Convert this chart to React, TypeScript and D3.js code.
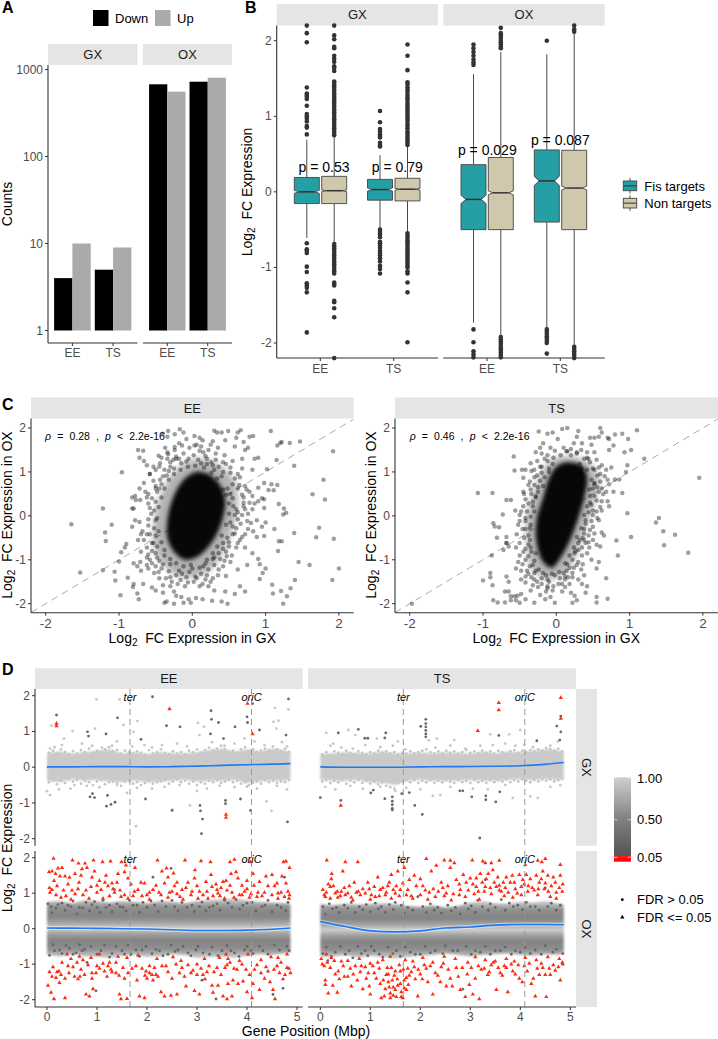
import React from "react";
import * as d3 from "d3";

// ---------- Panel A ----------
const aFacets = ["GX", "OX"];
const aCats = ["EE", "TS"];
const aDir = ["Down", "Up"];
const aGX = [4, 10, 5, 9];
const aOX = [676, 556, 724, 805];
const aTicks = [1, 10, 100, 1000];

// ---------- Panel B (box statistics: q1, median, q3, whisker low, whisker high, notch half) ----------
const bBoxes = [
  [-0.155, 0, 0.19, -0.61, 0.69, 0.02],
  [-0.155, 0.015, 0.205, -0.68, 0.73, 0.012],
  [-0.11, 0.03, 0.165, -0.5, 0.485, 0.02],
  [-0.12, 0.035, 0.18, -0.55, 0.6, 0.012],
  [-0.5, -0.1, 0.36, -1.73, 1.557, 0.055],
  [-0.5, -0.013, 0.455, -1.9, 1.85, 0.025],
  [-0.4, 0.145, 0.555, -1.81, 1.82, 0.06],
  [-0.5, 0.05, 0.55, -2.05, 2.1, 0.025],
];
const bOut = [
  [2.2,2.1,1.98,1.38,1.3,1.28,1.26,1.23,1.14,1.03,1,.97,.93,.87,.85,.76,-.68,-.76,-.78,-.81,-.99,-1.06,-1.21,-1.24,-1.27,-1.33,-1.86],
  [2.2,2.07,2.02,1.92,1.9,1.8,1.76,1.72,1.66,1.64,1.6,1.46,1.44,1.41,1.38,1.35,1.32,1.29,1.26,1.23,1.2,1.17,1.14,1.11,1.08,1.05,1.02,.99,.96,.93,.9,.87,.84,.81,.78,.75,-.69,-.72,-.75,-.78,-.81,-.84,-.87,-.9,-.93,-.96,-.99,-1.02,-1.05,-1.08,-1.2,-1.22,-1.24,-1.44,-1.46,-1.54,-1.66,-2.2],
  [1.07,.92,.83,.8,.76,.74,.72,.65,.62,.6,-.5,-.53,-.56,-.6,-.66,-.68,-.71,-.74,-.78,-.81,-.84,-.88,-.92,-.98,-1.02,-1.08],
  [1.95,1.8,1.61,1.45,1.42,1.38,1.35,1.32,1.28,1.25,1.22,1.18,1.15,1.12,1.09,1.06,1.03,1,.97,.94,.9,.87,.84,.8,.77,.74,.71,.68,.65,.62,-.55,-.58,-.61,-.64,-.67,-.7,-.73,-.76,-.79,-.82,-.85,-.88,-.91,-.94,-.97,-1,-1.05,-1.08,-1.2,-1.33,-1.99],
  [1.95,1.9,1.85,1.8,1.75,1.71,1.68,-1.82,-1.99,-2.11,-2.15,-2.19],
  [2.17,2.1,2.07,2.04,2.01,1.98,1.95,1.92,1.9,-1.92,-1.95,-1.98,-2.01,-2.04,-2.07,-2.1,-2.13,-2.16,-2.19],
  [2,-1.82,-1.85,-1.88,-1.91,-1.94,-1.97,-2,-2.14],
  [2.2,2.15,2.12,-2.05,-2.08,-2.11,-2.14,-2.17,-2.2],
];
const bP = ["p = 0.53", "p = 0.79", "p = 0.029", "p = 0.087"];
const bPy = [0.26, 0.26, 0.485, 0.62];
const bTicks = [-2, -1, 0, 1, 2];
const bGroups = ["Fis targets", "Non targets"];

// ---------- Panel C ----------
// The solid centre of each cloud holds too many overlapping points to read one by one,
// so it is kept as outlines; the points around it are read individually.
const cEECore = [[.05,1],[.22,.95],[.38,.7],[.45,.35],[.4,-.15],[.26,-.62],[.08,-.92],[-.1,-1],[-.25,-.82],[-.34,-.5],[-.34,-.1],[-.27,.38],[-.13,.8]];
const cEEHalo = [[.05,1.3],[.32,1.2],[.56,.85],[.62,.3],[.54,-.35],[.4,-.9],[.18,-1.3],[-.15,-1.4],[-.38,-1.15],[-.52,-.7],[-.52,-.1],[-.43,.5],[-.22,1.05]];
const cTSCore = [[.14,1.22],[.34,1.15],[.42,.9],[.38,.4],[.27,-.2],[.17,-.62],[.06,-.95],[-.06,-1.18],[-.18,-1.05],[-.27,-.6],[-.27,-.1],[-.18,.42],[-.1,.85],[0,1.12]];
const cTSHalo = [[.15,1.35],[.44,1.22],[.58,.85],[.52,.3],[.38,-.35],[.27,-.9],[.12,-1.3],[-.12,-1.45],[-.34,-1.2],[-.4,-.7],[-.41,-.1],[-.32,.5],[-.2,1],[-.05,1.3]];
const cEEPts = [-1.65,-.19,-1.53,-1.29,-1.22,-1.24,-1.22,.17,-1.19,-.38,-1.18,-.57,-1.1,-.2,-1.06,-1.27,-1.05,-1.47,-.96,.99,-1,-1.04,-.97,-.83,-.9,-.64,-.92,-.72,-.88,-1.41,-.81,-1.62,-.98,-1.81,-.73,-1.9,-.75,-1.77,-.8,-1.55,-.67,-1.55,-.7,-1.25,-.8,-1.08,-.75,-1.15,-.71,-1.05,-.78,.45,-.82,.42,-.77,.36,-.71,.36,-.82,.17,-.8,.17,-.78,-.1,-.72,-.14,-.82,-.25,-.68,-.35,-.62,-.42,-.62,-.72,-.6,-.88,-.55,-.8,-.53,-.62,-.52,-.28,-.6,-.08,-.56,.05,-.6,.5,-.53,.8,-.6,.28,-.62,.42,-.72,1.32,-.66,1.25,-.74,1.5,-.67,1.48,-.62,1.15,-.53,1.12,-.58,.95,-.5,.62,-.46,1.37,-.44,1.2,-.37,1.55,-.34,1.45,-.33,1.4,-.3,1.12,-.24,1.57,-.22,1.3,-.17,1.97,-.33,1.93,-.12,1.9,-.24,1.86,-.4,1.87,-.34,1.8,-.18,1.65,-.08,1.75,.03,1.82,.1,1.78,.03,1.6,.14,1.72,.28,1.7,.3,1.94,.34,1.9,.4,1.9,.49,1.93,.66,1.95,.62,1.9,.6,1.78,.7,1.68,.78,1.8,.83,1.82,.58,1.58,.45,1.72,.35,1.55,.25,1.62,.15,1.45,.72,1.5,.76,1.55,.68,1.3,.55,1.25,.44,1.38,.32,1.28,.2,1.3,.68,1.08,.82,1.05,.9,1.32,1.02,1.06,1.07,1.93,1.2,1.66,1.22,1.68,1.33,1.66,1.47,1.69,1.92,1.47,1.16,1.6,1.39,1.14,1.15,1.27,.85,1.3,1.79,.82,1.64,.49,1.81,.37,1.08,.72,1.16,.7,1.11,.58,1.04,.59,.98,.75,.9,.64,.78,.55,.72,.68,.65,.88,.55,.72,.98,.38,.95,.4,.9,.33,.85,.28,.7,.22,.82,.15,.98,.18,1.18,.27,1.25,.17,1.28,.07,1.24,.03,1,-.15,.68,.02,.62,-.08,.75,-.12,.88,-.1,.95,-.25,.83,-.35,.72,-.42,.65,-.55,.88,-.48,.98,-.46,1.12,-.3,1.73,-.27,1.69,-.49,1.93,-.52,1.39,-.39,1.18,-.58,1.22,-.58,1.17,-.8,1.45,-1.05,1.6,-1.12,2,-1.2,1.91,-1.46,1.4,-1.46,1.34,-1.65,1.29,-1.83,1.24,-2,1.21,-1.71,1.09,-1.57,1.1,-1.77,.92,-1.1,1,-1.2,.96,-1.3,.92,-1.44,.9,-.98,.82,-.85,.72,-.72,.6,-.72,.75,-1.12,.62,-1.22,.52,-1.05,.47,-.92,.42,-1.15,.35,-1.35,.46,-1.37,.25,-1.5,.65,-1.6,.72,-1.72,.58,-1.78,.45,-1.72,.4,-1.95,.48,-2,.27,-1.93,.14,-1.9,.05,-1.87,-.02,-1.98,-.05,-1.9,-.12,-1.98,-.15,-1.85,-.22,-1.82,-.25,-1.72,-.35,-1.95,-.38,-1.98,-.25,-2,-.4,-1.75,-.5,-1.7,-.55,-1.63,-.4,-1.58,-.3,-1.6,-.2,-1.55,-.1,-1.6,.02,-1.5,.1,-1.6,.18,-1.45,.3,-1.7,-.45,-1.42,-.52,-1.3,-.6,-1.2,-.42,-1.2,-.55,-1.08,-.45,-1.02,-.62,-.95,-.5,-.85,.42,-.75,.5,-.6,.55,-.42,.6,-.28,.52,-.15,.6,.15,.55,.4,.62,.62,.42,1,.28,1.15,.12,1.2,-.05,1.3,-.15,1.2,-.25,1.08,-.35,.92,-.42,.72,-.48,.55,-.5,.32,-.52,.12,-.5,-.1,-.5,-.45,-.48,-.7,-.38,-.9,-.3,-1.1,-.18,-1.25,0,-1.2,.15,-1.15,.3,-.95,.2,-1.35,-.08,-1.4,-.3,-1.4];
const cEEPts2 = [-.44,.82,-.38,1.05,-.3,1.22,-.22,1.35,-.12,1.42,.02,1.38,.1,1.48,.18,1.36,.26,1.22,.36,1.12,.46,1.18,.52,.98,.58,.85,.64,.7,.68,.48,.7,.3,.62,.08,.66,-.18,.58,-.4,.5,-.7,.46,-.82,.38,-.98,.3,-1.12,.22,-1.22,.12,-1.32,.04,-1.38,-.04,-1.28,-.14,-1.32,-.22,-1.35,-.32,-1.26,-.4,-1.1,-.48,-.95,-.55,-.62,-.58,-.42,-.6,-.22,-.58,.18,-.55,.4,-.5,.68,-.45,.62,-.4,.9,-.32,1.02,-.26,1.28,-.18,1.3,-.08,1.24,.08,1.28,.2,1.18,.3,1.05,.4,.9,.48,.62,.52,.5,.56,.22,.58,.02,.55,-.24,.48,-.5,.42,-.62,.36,-.85,.28,-.98,.18,-1.08,.1,-1.18,-.02,-1.12,-.12,-1.15,-.22,-1.08,-.3,-.98,-.38,-.78,-.42,-.6,-.46,-.35,-.48,-.05,-.46,.2,-.42,.42,-.38,.62,-.32,.82,-.25,.95,-.16,1.05,-.06,1.12,.04,1.14,.16,1.1,.26,.98,.34,.85,.42,.6,.46,.48,.5,.28,.5,.05,.46,-.2,.4,-.45,.34,-.7,.28,-.85,.2,-1,-.66,.75,-.72,.62,-.64,.55,-.42,1.32,-.5,1.05,-.58,.95,-.66,-.55,-.7,-.42,-.74,-.55,-.7,-.82,-.58,-1,-.5,-1.15,-.62,-1.12,-.46,-1.28,-.36,-1.42,-.28,-1.5,-.16,-1.46,-.06,-1.52,.06,-1.42,.14,-1.55,.22,-1.6,.28,-1.42,.36,-1.22,.44,-1.02,.54,-.9,.62,-.62,.68,-.48,.76,-.3,.8,-.16,.76,.05,.72,.15,.78,.3,.7,.42,.82,.45,.74,.6,.62,.95,.52,1.1,.42,1.22,.32,1.42,.22,1.5,.12,1.58,.06,1.62,-.04,1.55,-.14,1.6,-.24,1.5,-.34,1.3,-.45,1.12];
const cTSPts = [-1.97,-2,-1.07,.52,-.87,.52,-.62,.36,-.68,.36,-.73,.03,-.86,-.17,-.84,-.24,-.78,-.26,-.81,-.5,-.68,-.48,-.68,-.62,-.65,-.7,-.72,-.78,-.88,-.9,-.68,-.62,-.9,-1.3,-.9,-1.4,-1,-1.47,-.87,-1.58,-.68,-1.38,-.65,-1.5,-.86,-1.92,-.8,-1.97,-.7,-1.97,-.65,-1.72,-.7,-1.72,-.62,-1.83,-.57,-1.83,-.53,-1.82,-.48,-1.78,-.62,-1.92,-.55,-1.92,-.5,-1.98,-.42,-1.9,-.3,-1.98,-.22,-1.8,-.15,-1.9,-.08,-1.85,-.02,-1.98,.2,-1.75,.22,-1.98,.28,-1.92,.25,-1.82,.4,-1.75,.55,-1.97,.55,-1.85,.7,-1.89,.35,-1.55,.42,-1.6,.3,-1.45,.38,-1.35,.68,-1.42,.55,-1.2,.58,-1.05,.48,-1,.36,-1.1,.6,-.7,.55,-.66,.45,-.72,.42,-.85,.5,-.55,.62,-.38,.65,-.45,.82,-.56,.84,-.9,1.02,-.48,1.4,-.05,1.36,-.15,1.46,-.35,1.62,-.43,1.47,-.67,1.8,-.84,.97,.06,1.95,.87,.58,-.1,.5,-.25,.44,-.45,.38,-.4,.5,.02,.48,.25,.55,.35,.62,.33,.7,.33,.72,.22,.78,.55,.9,.52,.62,.62,.7,.82,.8,.83,.86,.83,.95,1,.97,1.15,1.02,1.5,.93,1.45,1.2,1.3,1.1,1.95,.98,1.75,.9,1.87,.8,1.85,.72,1.75,.78,1.6,.72,1.5,.7,1.78,.6,2,.62,1.9,.58,1.8,.52,1.78,.46,1.78,.3,1.93,.28,1.8,.35,1.65,.42,1.45,.52,1.45,.55,1.28,.62,1.15,.68,1.05,.75,1.1,.48,1.62,.24,1.65,.15,1.47,.02,1.75,.15,2,.08,1.98,-.05,1.9,-.12,1.87,-.24,1.92,-.18,1.65,-.08,1.55,-.22,1.55,-.2,1.42,-.28,1.45,-.12,1.38,-.35,1.2,-.42,1.05,-.58,1.35,-.57,1.03,-.45,.87,-.47,1.05,-.3,1.05,-.22,1.12,-.38,.7,-.45,.55,-.44,.5,-.35,.6,-.28,.45,-.32,.32,-.45,.22,-.56,.12,-.5,.02,-.42,-.05,-.52,-.2,-.42,-.3,-.38,-.45,-.5,-.62,-.45,-.82,-.35,-.72,-.42,-1,-.52,-1.05,-.55,-1.2,-.48,-1.25,-.38,-1.32,-.3,-1.45,-.2,-1.55,-.12,-1.65,-.05,-1.7,.03,-1.55,.12,-1.62,.22,-1.4,.1,-1.3,.18,-1.18,.3,-1.05,.25,-.85,.35,-.72,.32,-.55,.38,-.3,.4,-.1,.5,.12,.45,.6,.52,.72,.6,.95,.5,1.08,.42,1.32,.28,1.42,.32,.95,-.28,-.85,-.32,-1.12,-.28,-1.25,-.18,-1.3,-.42,-1.52,-.35,-1.7,-.48,-1.45,-.12,-1.45,-.25,.65,-.22,.8,-.2,.98,-.1,1.08,-.3,.1,-.35,-.2,-.38,-.65,.15,-1.1,.12,-1.45,.08,-1.72,.18,-1.55];
const cTSPts2 = [.14,1.47,.28,1.45,.38,1.3,.46,1.22,.52,1.05,.56,.92,.6,.78,.58,.55,.52,.45,.46,.3,.44,.08,.4,-.18,.36,-.5,.3,-.62,.26,-.8,.22,-1,.14,-1.25,.05,-1.42,-.02,-1.35,-.1,-1.5,-.2,-1.42,-.3,-1.3,-.36,-1.15,-.38,-.92,-.42,-.75,-.44,-.5,-.46,-.3,-.42,-.12,-.4,.1,-.38,.28,-.34,.5,-.3,.7,-.26,.92,-.2,1.12,-.12,1.25,-.04,1.32,.06,1.38,.2,1.38,.32,1.18,.42,1.05,.48,.82,.5,.62,.46,.45,.42,.22,.38,.02,.34,-.28,.28,-.48,.24,-.72,.18,-.9,.12,-1.08,.04,-1.28,-.06,-1.32,-.14,-1.35,-.24,-1.22,-.3,-1.02,-.34,-.82,-.36,-.55,-.36,-.28,-.35,-.02,-.32,.22,-.28,.42,-.25,.55,-.18,.68,-.16,.88,-.1,1,-.05,1.18,.34,1.08,.52,.75,.56,.65,.64,.5,.6,.2,.55,.1,.48,-.12,.46,-.32,.4,-.62,.35,-.9,.28,-1.12,.22,-1.3,.16,-1.4,.08,-1.55,-.12,-1.6,-.26,-1.5,-.34,-1.4,-.4,-1.25,-.46,-1.1,-.5,-.9,-.55,-.72,-.54,-.42,-.5,-.12,-.48,.1,-.42,.38,-.36,.78,-.3,.88,-.34,1.02,-.26,1.25,-.16,1.3,-.02,1.48,.1,1.55,.2,1.52,.34,1.5,.44,1.3,.58,1.1,.66,.9,.72,.72,.68,.55,.62,.12,.56,-.05,.52,-.4,.44,-.6,.38,-.55,.3,-.78,.24,-1.18,.34,-1.22,.12,-1.38,-.04,-1.6,-.14,-1.72,-.25,-1.62,-.32,-1.58,-.42,-1.38];

// ---------- Panel D ----------
// The solid band of each panel is summarised by its envelope; marks outside it are read individually.
const dBandX = [0,.25,.5,.75,1,1.25,1.5,1.75,2,2.25,2.5,2.75,3,3.25,3.5,3.75,4,4.25,4.5,4.75,4.87];
const dEEGXUp = [.4,.44,.38,.42,.46,.5,.38,.42,.37,.42,.39,.38,.42,.48,.52,.44,.5,.44,.52,.48,.42];
const dEEGXLo = [-.38,-.42,-.34,-.38,-.36,-.4,-.42,-.37,-.42,-.4,-.38,-.35,-.4,-.38,-.38,-.36,-.44,-.4,-.38,-.38,-.34];
const dTSGXUp = [.36,.38,.42,.4,.38,.44,.38,.38,.42,.38,.42,.4,.38,.44,.38,.44,.42,.46,.5,.48,.42];
const dTSGXLo = [-.36,-.38,-.38,-.36,-.42,-.44,-.5,-.38,-.36,-.38,-.38,-.38,-.36,-.38,-.38,-.36,-.34,-.36,-.34,-.36,-.34];
const dEEOXUp = [.76,.78,.72,.8,.78,.74,.78,.76,.72,.78,.76,.72,.78,.8,.83,.86,.8,.76,.74,.72,.7];
const dEEOXLo = [-.74,-.78,-.72,-.78,-.8,-.83,-.76,-.73,-.8,-.78,-.72,-.74,-.83,-.8,-.78,-.82,-.76,-.72,-.74,-.7,-.68];
const dTSOXUp = [.7,.66,.72,.68,.7,.72,.7,.64,.62,.66,.6,.64,.74,.78,.72,.7,.76,.74,.78,.72,.68];
const dTSOXLo = [-.8,-.78,-.74,-.82,-.76,-.8,-.84,-.8,-.76,-.74,-.7,-.74,-.78,-.74,-.72,-.7,-.74,-.76,-.72,-.74,-.7];

const dSmoothX = [0,.5,1,1.5,2,2.5,3,3.5,4,4.5,4.87];
const dEEGXLine = [.01,.01,.015,.015,.01,.015,.03,.05,.07,.085,.1];
const dTSGXLine = [.01,0,0,0,.01,.015,.02,.025,.04,.08,.13];
const dEEOXLine = [.02,.015,.01,0,-.01,-.03,-.05,-.05,-.04,-.015,.02];
const dTSOXLine = [.2,.06,-.06,-.09,-.06,.02,.05,.1,.12,.12,.11];

const dEEGXDark = [.19,1.46,.83,.87,.81,.99,1.41,1.38,2.11,1.97,2.39,1.16,2.66,1.13,3.29,1.34,3.28,1.58,3.43,1.25,3.53,.8,3.76,1.13,4,1.41,4.01,1.25,4.11,1.78,4.25,1.04,4.83,1.91,4.78,.9,1.88,.78,3.27,.93,1.18,.93,.91,-.74,.86,-.83,.95,-.85,1.21,-.79,1.19,-1.09,1.28,-1.04,1.36,-.98,1.97,-.89,2.5,-1.21,3.06,-1.07,3.07,-1.22,3.11,-1.45,3.09,-1.86,3.57,-.93,3.57,-1.02,3.87,-.89,4.07,-1.21,4.81,-1.53];
const dEEGXLight = [.99,1.9,1.45,1.9,.09,1.16,1.81,1.29,.96,1.08,.51,1.01,1.53,1.18,1.73,.99,3.02,1.24,3.14,1.13,4.56,1.66,4.83,1.62,4.53,1.27,4.63,1.3,4.59,1.08,1.78,-1.65,2.51,-1.19,2.86,-1.07,4.49,-1.22,4.39,-.96,0,-.67,.06,-.78,.24,-.62,.47,-.6,.15,.56,.3,.62,.06,.52,.34,.8,.7,.66,.9,.6,1.1,.55,1.4,.72,1.3,.6,1.7,.58,1.95,.62,2.1,.55,2.3,.62,2.6,.66,2.8,.58,3.05,.9,3.3,.7,3.55,.6,3.75,.66,3.95,.8,4.15,.72,4.35,.62,4.7,.7,4.8,.58,.55,-.5,.8,-.52,1.05,-.56,1.4,-.5,1.6,-.72,1.8,-.58,2.1,-.6,2.35,-.55,2.65,-.5,3,-.66,3.2,-.6,3.45,-.52,3.75,-.56,4,-.54,4.2,-.6,4.6,-.52,4.8,-.62];
const dEEGXEdge = [.04,.4,.12,.46,.2,.38,.28,.5,.36,.42,.44,.36,.52,.45,.6,.38,.68,.48,.76,.42,.84,.52,.92,.4,1,.46,1.08,.42,1.16,.5,1.24,.56,1.32,.44,1.4,.48,1.48,.38,1.56,.46,1.64,.42,1.72,.38,1.8,.44,1.88,.4,1.96,.35,2.04,.48,2.12,.38,2.2,.42,2.28,.5,2.36,.4,2.44,.36,2.52,.44,2.6,.38,2.68,.42,2.76,.36,2.84,.46,2.92,.42,3,.5,3.08,.4,3.16,.48,3.24,.55,3.32,.46,3.4,.52,3.48,.6,3.56,.5,3.64,.42,3.72,.46,3.8,.4,3.88,.5,3.96,.56,4.04,.44,4.12,.5,4.2,.42,4.28,.46,4.36,.52,4.44,.46,4.52,.58,4.6,.5,4.68,.44,4.76,.52,4.84,.42,.04,-.42,.12,-.36,.2,-.48,.28,-.38,.36,-.44,.44,-.34,.52,-.4,.6,-.36,.68,-.46,.76,-.38,.84,-.42,.92,-.5,1,-.4,1.08,-.36,1.16,-.48,1.24,-.42,1.32,-.4,1.4,-.44,1.48,-.52,1.56,-.4,1.64,-.38,1.72,-.46,1.8,-.42,1.88,-.5,1.96,-.44,2.04,-.38,2.12,-.46,2.2,-.42,2.28,-.4,2.36,-.36,2.44,-.46,2.52,-.4,2.6,-.34,2.68,-.42,2.76,-.38,2.84,-.46,2.92,-.4,3,-.5,3.08,-.42,3.16,-.46,3.24,-.38,3.32,-.42,3.4,-.36,3.48,-.44,3.56,-.4,3.64,-.36,3.72,-.42,3.8,-.38,3.88,-.46,3.96,-.42,4.04,-.5,4.12,-.44,4.2,-.4,4.28,-.46,4.36,-.36,4.44,-.42,4.52,-.38,4.6,-.44,4.68,-.4,4.76,-.42,4.84,-.36];
const dEEGXRed = [.19,1.22,.19,1.15,2.45,1.63,4.01,1.78,3.58,-1.32,3.58,-1.41,4.11,.93];
const dTSGXDark = [0,-.85,.41,-.93,.36,.96,.76,1.06,.89,.81,.95,.81,1.31,.96,1.29,.82,1.06,-.64,1.01,-.72,1.29,-.88,1.44,-.83,1.44,-.95,1.44,-1.05,1.44,-1.15,1.44,-1.2,1.63,-.74,1.78,-.71,1.89,-1.07,2.04,-1.32,2.01,1.14,2.11,1.34,2.11,1.22,2.11,1.13,2.11,1.03,2.11,.93,2.11,.85,3.19,-1.98,2.79,-.66,2.85,-.66,3.31,-.8,3.31,-.91,3.03,-.83,3.51,-.97,3.59,-.69,3.57,.89,4.33,.74,4.73,1.15,4.81,.99,4.81,1.43,4.79,.76];
const dTSGXLight = [.12,.96,.56,1.04,.26,.66,.7,.9,1.13,.8,1.55,.72,2.17,.75,2.33,.8,2.68,.76,3.4,.92,3.78,.92,4,1.04,4.08,.62,.2,.6,.42,.55,.65,.52,.9,.62,1.2,.56,1.45,.6,1.7,.5,2.3,.55,2.6,.6,2.9,.52,3.2,.6,3.45,.62,3.7,.66,3.9,.6,4.25,.56,4.6,.6,4.75,.72,.1,-.55,.3,-.62,.6,-.52,.85,-.6,1.2,-.55,1.5,-.66,1.72,-.58,2,-.62,2.25,-.8,2.4,-.78,2.6,-.55,3.05,-.6,3.35,-.62,3.7,-.5,3.85,-.86,4.2,-.82,4.35,-.86,4.6,-.55,4.8,-.5];
const dTSGXEdge = [.04,.36,.12,.42,.2,.34,.28,.44,.36,.4,.44,.36,.52,.46,.6,.4,.68,.36,.76,.44,.84,.4,.92,.36,1,.42,1.08,.38,1.16,.46,1.24,.4,1.32,.44,1.4,.38,1.48,.42,1.56,.36,1.64,.4,1.72,.38,1.8,.44,1.88,.38,1.96,.42,2.04,.46,2.12,.5,2.2,.42,2.28,.38,2.36,.44,2.44,.38,2.52,.46,2.6,.4,2.68,.44,2.76,.38,2.84,.42,2.92,.48,3,.4,3.08,.44,3.16,.38,3.24,.46,3.32,.4,3.4,.44,3.48,.38,3.56,.46,3.64,.42,3.72,.36,3.8,.44,3.88,.48,3.96,.4,4.04,.46,4.12,.42,4.2,.48,4.28,.44,4.36,.5,4.44,.46,4.52,.54,4.6,.5,4.68,.46,4.76,.52,4.84,.44,.04,-.4,.12,-.36,.2,-.44,.28,-.38,.36,-.42,.44,-.36,.52,-.46,.6,-.38,.68,-.42,.76,-.36,.84,-.44,.92,-.38,1,-.46,1.08,-.4,1.16,-.48,1.24,-.42,1.32,-.52,1.4,-.56,1.48,-.6,1.56,-.44,1.64,-.4,1.72,-.36,1.8,-.42,1.88,-.36,1.96,-.44,2.04,-.38,2.12,-.42,2.2,-.36,2.28,-.44,2.36,-.38,2.44,-.42,2.52,-.36,2.6,-.4,2.68,-.44,2.76,-.36,2.84,-.42,2.92,-.38,3,-.44,3.08,-.36,3.16,-.42,3.24,-.38,3.32,-.44,3.4,-.36,3.48,-.42,3.56,-.36,3.64,-.4,3.72,-.34,3.8,-.42,3.88,-.36,3.96,-.4,4.04,-.34,4.12,-.38,4.2,-.42,4.28,-.36,4.36,-.4,4.44,-.34,4.52,-.38,4.6,-.34,4.68,-.4,4.76,-.36,4.84,-.32];
const dTSGXRed = [3.57,1.8,3.57,1.6,4.81,1.94,4.81,1.36,3.15,1.02,.41,-1.07];

const dEEOXRed = [.13,1.98,.51,1.93,.63,1.84,.76,1.84,.93,1.93,1.11,1.88,1.27,1.9,1.49,1.88,1.58,1.79,1.76,1.72,2.21,1.93,2.39,1.7,2.53,1.56,2.76,1.93,2.96,1.65,3.08,1.91,3.27,1.88,3.66,1.88,3.75,1.95,4.07,1.88,4.73,1.88,4.78,1.9,4.85,1.72,.04,1.6,.1,1.62,.17,1.55,.22,1.7,.3,1.72,.36,1.48,.45,1.44,.56,1.55,.68,1.5,.8,1.72,.95,1.62,1.05,1.35,1.18,1.5,1.3,1.28,1.42,1.55,1.55,1.6,1.68,1.25,1.82,1.1,1.95,1.28,2.05,1.02,2.18,1.22,2.3,1.62,2.42,1.45,2.55,1.2,2.7,1.1,2.82,1.3,2.95,1.42,3.05,1.05,3.18,1.32,3.28,1.52,3.38,1.25,3.48,1.15,3.58,1.35,3.68,1.55,3.78,1.6,3.9,1.22,4,1.35,4.12,1.55,4.25,1.32,4.38,1.48,4.5,1.52,4.6,1.28,4.7,1.48,4.82,1.05,.05,1.15,.1,1.1,.18,.95,.28,.88,.38,.92,.5,1.08,.62,1.12,.72,.95,.88,1.18,1,1.02,1.12,.85,1.22,1.2,1.35,1.02,1.48,.9,1.62,.85,1.72,.92,1.9,.92,2.05,.82,2.28,.95,2.45,1.02,2.6,.98,2.72,.82,2.88,.95,3.02,.85,3.2,1.05,3.32,.92,3.42,1,3.55,.85,3.7,1.02,3.85,.95,3.95,1.05,4.05,.88,4.2,.9,4.35,1.02,4.5,.95,4.62,1,4.75,.9,4.85,.95,.02,-1.6,.08,-1.8,.14,-1.98,.1,-1.35,.2,-1.22,.28,-1.3,.25,-1.52,.36,-1.95,.42,-1.05,.48,-.85,.55,-1.35,.62,-1.42,.68,-1.15,.78,-1.85,.85,-1.9,.92,-1.7,.75,-1.3,.9,-1.25,1,-1.05,1.12,-.98,1.2,-1.35,1.28,-1.15,1.38,-1.25,1.45,-1.85,1.48,-1.98,1.6,-1.97,1.55,-1.4,1.7,-1.12,1.8,-1.45,1.85,-1.9,1.95,-1.95,1.98,-1.2,2.05,-1.05,2.12,-1.45,2.18,-1.3,2.28,-1.78,2.35,-1.9,2.48,-1.88,2.6,-1.85,2.7,-1.1,2.78,-1.62,2.88,-1.25,2.95,-1.75,3.05,-1.85,3.12,-1.3,3.2,-1.22,3.3,-1.6,3.32,-1.8,3.4,-1.1,3.52,-1.9,3.6,-1.98,3.7,-1.9,3.62,-1.55,3.72,-1.45,3.8,-1.15,3.92,-1.48,4,-1.78,4.1,-1.95,4.15,-1.15,4.25,-1.72,4.35,-1.4,4.42,-1.2,4.52,-1.72,4.56,-1.98,4.65,-1.25,4.72,-1.42,4.8,-1.1,4.87,-1.25,.4,-.72,.65,-.78,.88,-.82,1.05,-.72,1.25,-.95,1.42,-.78,1.6,-.82,1.82,-.75,2.2,-.85,2.38,-1.05,2.52,-.8,2.68,-.9,3,-1,3.15,-.85,3.45,-.82,3.58,-.72,3.62,-.85,3.85,-.9,4.02,-.72,4.28,-.88,4.48,-.8,4.62,-.82,4.8,-.72];
const dEEOXRed2 = [.06,1.02,.14,1.35,.2,1.2,.26,1.48,.33,1.08,.42,1.25,.48,.82,.56,.98,.64,1.3,.7,1.68,.78,1.08,.84,.85,.9,1.45,1,1.22,1.08,1.1,1.16,1.3,1.25,.92,1.32,1.12,1.4,1.3,1.46,1.08,1.55,.95,1.62,1.42,1.75,1.05,1.88,1.3,2,.95,2.12,1.1,2.24,1.02,2.35,1.28,2.42,.88,2.5,1.05,2.6,1.3,2.66,.9,2.78,1.15,2.9,1.05,3,1.2,3.12,.95,3.22,.85,3.3,1.18,3.4,1.1,3.46,.92,3.52,1.32,3.6,1.08,3.66,1.22,3.74,.88,3.82,1.42,3.9,.95,4,1.12,4.08,.98,4.14,1.22,4.22,1.02,4.3,.92,4.42,1.2,4.55,1.2,4.62,.85,4.68,1.02,4.78,1.28,4.84,.85,.05,-1.22,.12,-1.08,.18,-1.38,.24,-1.2,.3,-.95,.36,-1.4,.44,-1.25,.52,-1.08,.6,-.95,.66,-1.35,.72,-.88,.82,-1.02,.9,-1.4,.98,-1.25,1.05,-1.12,1.15,-1.2,1.22,-1.05,1.3,-1.22,1.38,-.95,1.44,-1.32,1.52,-1.1,1.62,-1.25,1.78,-1.05,1.9,-1.12,1.96,-1.32,2,-1.4,2.05,-1.25,2.1,-1.3,2.15,-1.1,2.22,-1.35,2.3,-1.05,2.42,-1.22,2.5,-1.4,2.58,-1,2.65,-1.25,2.75,-1.35,2.82,-1.02,2.92,-1.18,3,-1.3,3.08,-1.12,3.16,-1.42,3.24,-1.05,3.34,-1.22,3.42,-1.6,3.48,-1.3,3.56,-1.1,3.6,-1.02,3.66,-.95,3.74,-1.12,3.82,-1.55,3.9,-1,3.98,-1.15,4.05,-1.3,4.12,-1.55,4.2,-1.02,4.28,-1.25,4.38,-1.08,4.46,-1.5,4.54,-1.15,4.6,-1.05,4.68,-.95,4.76,-1.3,4.84,-1.12];
const dEEOXGray = [.02,.7,.08,.62,.18,.58,.3,.72,.42,.66,.52,.78,.65,.6,.78,.74,.9,.68,1,.6,1.12,.8,1.25,.66,1.35,1.1,1.4,.7,1.52,.6,1.65,.8,1.8,.66,1.92,.74,2.12,1.45,2.15,.66,2.3,.78,2.48,1.7,2.55,.62,2.7,.74,2.9,.66,3.1,.75,3.25,.6,3.4,.7,3.62,.72,3.78,.82,3.92,.66,4.1,.74,4.3,.62,4.42,.8,4.6,.66,4.75,1.45,4.82,.74,.05,-.75,.15,-.62,.3,-.7,.45,-.55,.58,-.68,.7,-.62,.8,-.95,.98,-1.75,1.08,-.62,1.3,-.7,1.5,-.62,1.68,-.72,1.9,-.6,2.1,-.7,2.25,-.62,2.42,-.72,2.62,-.6,2.82,-.68,2.98,-.6,3.1,-1.45,3.25,-.72,3.38,-1.98,3.5,-.62,3.75,-.68,3.95,-.6,4.12,-.7,4.32,-.62,4.52,-1.85,4.72,-1.68,4.84,-.62];
const dEEOXGray2 = [.1,.45,.22,.68,.36,.52,.48,.62,.6,.42,.72,.58,.85,.5,.95,.76,1.06,.46,1.18,.6,1.3,.48,1.46,.62,1.58,.5,1.72,.66,1.85,.46,2,.6,2.08,.78,2.22,.48,2.38,.62,2.5,.8,2.62,.5,2.8,.6,2.95,.48,3.05,.62,3.18,.5,3.32,.64,3.46,.52,3.55,.8,3.7,.6,3.85,.55,4,.72,4.18,.5,4.36,.66,4.5,.48,4.68,.6,4.78,.5,.12,-.45,.25,-.6,.38,-.48,.52,-.72,.65,-.45,.75,-.58,.88,-.5,1,-.72,1.15,-.46,1.25,-.8,1.38,-.5,1.55,-.72,1.62,-.46,1.78,-.6,1.85,-.78,1.98,-.5,2.18,-.58,2.32,-.76,2.48,-.46,2.56,-.64,2.72,-.5,2.88,-.76,3.02,-.5,3.12,-.68,3.3,-.52,3.42,-.76,3.6,-.48,3.68,-.62,3.84,-.78,4,-.5,4.08,-.62,4.25,-.5,4.42,-.72,4.55,-.46,4.65,-.6,4.8,-.5];
const dTSOXRed = [.13,1.93,.5,1.88,.75,1.88,.45,1.62,2.12,1.97,2.48,1.93,2.6,1.92,2.68,1.85,3.04,1.93,3.25,1.9,3.3,1.85,3.42,1.85,3.58,1.92,4.1,1.8,4.35,1.92,4.5,1.97,4.43,1.88,4.8,1.8,.05,1.1,.12,1.02,.2,1.18,.22,1.4,.23,1.55,.3,1,.42,1.05,.58,1.2,.68,1.3,.72,1.02,.85,1.12,.95,1.3,1.02,.95,1.15,1.45,1.2,1.1,1.35,1.2,1.42,1.52,1.55,1.62,1.6,1.1,1.68,1.72,1.78,1.38,1.88,1.5,2,1.4,2.1,1.08,2.22,1.62,2.32,1.78,2.45,1.15,2.52,1.0,2.6,1.72,2.72,1.38,2.8,1.1,2.92,1.3,3,1.42,3.12,1.18,3.2,1.55,3.32,1.4,3.45,1.65,3.52,1.18,3.62,1.05,3.72,1.45,3.8,1.3,3.9,1.12,3.98,1.52,4.08,1.25,4.2,1.4,4.28,1.08,4.38,1.3,4.45,1.62,4.55,1.5,4.62,1.2,4.72,1.02,4.8,1.5,4.85,1.25,.1,.9,.2,.85,.35,.88,.5,.95,.65,.8,.8,.95,1,.82,1.1,.9,1.3,.95,1.42,.85,1.5,1,1.72,.95,1.85,.85,2,.95,2.15,.82,2.3,.9,2.48,.92,2.62,.8,2.78,1.25,2.9,.9,3.08,.98,3.18,.82,3.28,1.05,3.42,.98,3.58,1.22,3.68,.92,3.85,.88,4.02,.95,4.15,1.05,4.35,.95,4.48,1.12,4.6,.9,4.72,.85,.02,-.85,.08,-1.05,.1,-1.45,.1,-1.58,.16,-1.82,.22,-.82,.3,-1.28,.38,-1.42,.34,-1.8,.42,-.92,.48,-1.35,.55,-1.35,.62,-1.62,.7,-1.05,.82,-1.05,.85,-1.7,.92,-1.4,.98,-1.62,1,-1.85,1.08,-1.25,1.15,-.95,1.2,-1.55,1.22,-1.95,1.3,-1.7,1.32,-1.3,1.36,-1.5,1.4,-1.82,1.42,-1.1,1.46,-1.65,1.48,-1.32,1.52,-1.92,1.55,-1.6,1.6,-1.2,1.62,-1.78,1.65,-1.95,1.68,-1.45,1.72,-1.72,1.75,-1.12,1.78,-1.32,1.85,-.92,1.9,-1.42,1.95,-1.9,2,-1.28,2.08,-1.02,2.15,-1.5,2.25,-1.85,2.35,-1.32,2.42,-1.08,2.52,-1.62,2.6,-1.4,2.72,-1.1,2.8,-1.72,2.9,-1.92,2.98,-1.58,3.05,-1.85,3.18,-1.98,3.22,-1.15,3.35,-1.3,3.42,-1.02,3.52,-1.72,3.6,-1.25,3.68,-1.05,3.75,-1.78,3.85,-1.2,3.98,-1.4,4.08,-1.05,4.22,-1.55,4.3,-1.9,4.38,-1.3,4.45,-1.1,4.52,-1.92,4.6,-1.3,4.7,-1.18,4.8,-1.45,4.85,-1,.25,-1.6,.12,-.72,.55,-.9,.78,-.85,1,-.98,1.25,-.88,1.4,-.78,1.7,-.88,2.05,-.82,2.25,-.95,2.48,-.78,2.7,-.85,2.95,-.95,3.1,-.8,3.3,-.88,3.5,-.92,3.72,-.85,3.88,-.92,4.1,-.82,4.32,-.88,4.55,-.8,4.78,-.85];
const dTSOXRed2 = [.08,.95,.16,1.25,.26,1.2,.34,1.05,.4,.92,.48,1.15,.55,1,.62,.88,.76,1.05,.9,1,.98,1.12,1.08,1.18,1.18,.92,1.25,1.15,1.32,1.02,1.38,1.3,1.46,1.1,1.52,1.2,1.58,.92,1.65,1.28,1.75,1.1,1.82,.92,1.92,1.2,2.05,1.2,2.18,1.02,2.26,1.12,2.36,1.05,2.42,1.3,2.55,1.2,2.66,.98,2.78,.95,2.86,1.52,2.96,1.08,3.05,1.25,3.12,1.42,3.16,1.05,3.24,1.3,3.3,1.18,3.36,1.55,3.4,1.15,3.48,1.3,3.55,1.45,3.58,1.08,3.66,1.3,3.7,1.15,3.76,1.02,3.84,1.5,3.88,1.3,3.94,1,4.02,1.18,4.05,1.38,4.12,1.52,4.16,1.2,4.24,1.15,4.32,1.5,4.36,1.12,4.42,1.4,4.5,1.28,4.56,1.05,4.66,1.45,4.7,1.3,4.78,1.15,4.84,1.05,.04,-1,.14,-.95,.2,-1.1,.28,-.9,.36,-1.2,.46,-1.05,.6,-1.12,.66,-1.28,.74,-1.45,.8,-1.22,.9,-1.08,.96,-1.25,1.05,-1.05,1.12,-1.4,1.18,-1.12,1.26,-1.45,1.28,-1.9,1.34,-1.1,1.36,-1.28,1.38,-1.65,1.4,-1.95,1.44,-1.45,1.46,-1.88,1.5,-1.2,1.5,-1.72,1.54,-1.42,1.58,-1.02,1.6,-1.55,1.62,-1.92,1.66,-1.15,1.68,-1.68,1.72,-1.38,1.76,-1.58,1.82,-1.22,1.88,-1.08,1.96,-1.15,2.04,-1.42,2.12,-1.12,2.2,-1.05,2.3,-1.25,2.4,-1.5,2.46,-.98,2.56,-1.15,2.64,-1.62,2.76,-1.35,2.84,-1.1,2.94,-1.28,3.02,-1.1,3.1,-1.4,3.16,-1.05,3.28,-1.12,3.38,-1.22,3.46,-.95,3.56,-1.1,3.64,-1.32,3.72,-1.1,3.82,-1,3.9,-1.28,3.96,-1.02,4.04,-1.5,4.14,-1.2,4.18,-.98,4.26,-1.4,4.34,-1.12,4.42,-.98,4.5,-1.3,4.58,-1.12,4.66,-1.02,4.76,-1.08,4.84,-.95];
const dTSOXGray = [.05,.62,.18,.7,.32,.6,.48,.66,.62,.74,.78,.62,.92,.68,1.1,.72,1.22,.62,1.38,.68,1.5,.74,1.62,.66,1.75,.6,1.95,.9,2.05,.62,2.2,.7,2.35,.6,2.55,.66,2.7,.6,2.9,.72,3.02,.64,3.15,.8,3.3,1.38,3.4,.7,3.62,.82,3.78,.72,3.95,.66,4.12,.74,4.3,.62,4.5,1.15,4.62,.72,4.8,.66,.05,-.7,.15,-.9,.3,-.66,.5,-.72,.65,-.82,.82,-.7,.95,-.76,1.08,-.62,1.25,-.8,1.45,-.7,1.6,-.78,1.8,-.66,2,-.72,2.2,-.68,2.45,-.7,2.65,-.62,2.85,-1.7,3.02,-.72,3.2,-.66,3.4,-.72,3.6,-.62,3.82,-.72,4,-.66,4.2,-.7,4.42,-.72,4.65,-.66,4.85,-.7];
const dTSOXGray2 = [.1,.42,.24,.56,.38,.46,.55,.58,.7,.46,.85,.54,1,.48,1.16,.56,1.3,.46,1.46,.54,1.68,.44,1.85,.52,2.12,.46,2.28,.52,2.42,.44,2.62,.5,2.8,.42,2.96,.56,3.1,.46,3.24,.62,3.36,.52,3.5,.6,3.7,.52,3.86,.62,4.04,.54,4.2,.62,4.38,.52,4.55,.62,4.72,.52,.12,-.52,.22,-.78,.4,-.5,.58,-.62,.75,-.5,.9,-.62,1.02,-.5,1.18,-.72,1.35,-.52,1.52,-.62,1.7,-.52,1.9,-.72,2.1,-.5,2.3,-.62,2.5,-.48,2.75,-.62,2.92,-.5,3.1,-.62,3.3,-.5,3.5,-.62,3.7,-.52,3.9,-.62,4.1,-.52,4.3,-.6,4.5,-.48,4.72,-.58];

const dPos = [1.66, 4.09];
const dPosLabels = ["ter", "oriC"];
const fdrTicks = [1, 0.5, 0.05];
const fdrLabels = ["1.00", "0.50", "0.05"];
const shapeLabels = ["FDR > 0.05", "FDR <= 0.05"];

const FONT = "'Liberation Sans', Arial, sans-serif";
const AX = "#333333";
const TICK = "#4d4d4d";
const STRIP = "#e5e5e5";
const pairs = (a: number[]) => d3.range(0, a.length - 1, 2).map((i) => [a[i], a[i + 1]]);
const tri = d3.symbol(d3.symbolTriangle, 8)() as string;

function Strip({ x0, x1, y0, y1, label, rot }: any) {
  const cx = (x0 + x1) / 2, cy = (y0 + y1) / 2;
  return (
    <g>
      <rect x={x0} y={y0} width={x1 - x0} height={y1 - y0} fill={STRIP} />
      <text x={cx} y={cy} transform={rot ? `rotate(90 ${cx} ${cy})` : undefined} textAnchor="middle" dominantBaseline="central" fontSize={13} fill="#1a1a1a">{label}</text>
    </g>
  );
}

function LogTitle({ x, y, rot, text, size = 14 }: any) {
  return (
    <text x={x} y={y} transform={rot ? `rotate(-90 ${x} ${y})` : undefined} textAnchor="middle" fontSize={size} fill="#000" style={{ whiteSpace: "pre" }}>
      Log<tspan dy={3} fontSize={10}>2</tspan><tspan dy={-3}>{"  " + text}</tspan>
    </text>
  );
}

function YTicks({ x, scale, ticks, fmt }: any) {
  return (
    <g>
      {ticks.map((t: number) => (
        <g key={t}>
          <line x1={x - 3} x2={x} y1={scale(t)} y2={scale(t)} stroke={AX} />
          <text x={x - 5} y={scale(t)} textAnchor="end" dominantBaseline="central" fontSize={12} fill={TICK}>{fmt ? fmt(t) : t}</text>
        </g>
      ))}
    </g>
  );
}

function PanelA() {
  const y = d3.scaleLog().domain([1, 1000]).range([330.5, 69.5]);
  const facetX = [[48, 137.5], [143, 232]];
  const vals = [aGX, aOX];
  return (
    <g>
      <text x={2} y={13} fontSize={16} fontWeight="bold">A</text>
      {aDir.map((d, i) => (
        <g key={d}>
          <rect x={[93, 155][i]} y={10} width={15.5} height={16} fill={["#000", "#aaaaaa"][i]} />
          <text x={[115, 177][i]} y={23} fontSize={13}>{d}</text>
        </g>
      ))}
      {aFacets.map((f, fi) => {
        const [a, b] = facetX[fi];
        const x = d3.scaleBand().domain(aCats).range([a, b]).paddingOuter(0.1).paddingInner(0);
        const bw = x.bandwidth();
        return (
          <g key={f}>
            <Strip x0={a} x1={b} y0={44} y1={65} label={f} />
            {aCats.map((c, ci) => aDir.map((d, di) => {
              const v = vals[fi][ci * 2 + di];
              const cx = x(c)! + bw / 2;
              const w = bw * 0.45;
              return <rect key={c + d} x={cx - w + di * w} y={y(v)} width={w} height={y(1) - y(v)} fill={di ? "#aaaaaa" : "#000"} />;
            }))}
            <line x1={a} x2={b} y1={343} y2={343} stroke={AX} strokeWidth={1.1} />
            {aCats.map((c) => {
              const cx = x(c)! + bw / 2;
              return (
                <g key={c}>
                  <line x1={cx} x2={cx} y1={343} y2={346} stroke={AX} />
                  <text x={cx} y={357} textAnchor="middle" fontSize={12} fill={TICK}>{c}</text>
                </g>
              );
            })}
          </g>
        );
      })}
      <line x1={48} x2={48} y1={65} y2={343} stroke={AX} strokeWidth={1.1} />
      <YTicks x={48} scale={y} ticks={aTicks} />
      <text x={12} y={204} transform="rotate(-90 12 204)" textAnchor="middle" fontSize={14}>Counts</text>
    </g>
  );
}

function PanelB() {
  const y = d3.scaleLinear().domain([-2, 2]).range([343, 40.7]);
  const cx = [306.8, 334.2, 380, 407.5, 473.5, 500.8, 546.8, 574.2];
  const hw = 12.5;
  const labelX = [320.3, 393.7, 487, 560.3];
  const pX = [324, 397.3, 487.3, 560.3];
  const cols = ["#259fa3", "#cfc8ac"];
  return (
    <g>
      <text x={245} y={13} fontSize={16} fontWeight="bold">B</text>
      <Strip x0={276.7} x1={438} y0={4} y1={25.5} label="GX" />
      <Strip x0={443.3} x1={604.7} y0={4} y1={25.5} label="OX" />
      {bBoxes.map(([q1, m, q3, lo, hi, n], i) => {
        const c = cx[i];
        const ins = hw * 0.38;
        const d = d3.path();
        d.moveTo(c - hw, y(q1));
        d.lineTo(c + hw, y(q1));
        d.lineTo(c + hw, y(m - n));
        d.lineTo(c + hw - ins, y(m));
        d.lineTo(c + hw, y(m + n));
        d.lineTo(c + hw, y(q3));
        d.lineTo(c - hw, y(q3));
        d.lineTo(c - hw, y(m + n));
        d.lineTo(c - hw + ins, y(m));
        d.lineTo(c - hw, y(m - n));
        d.closePath();
        return (
          <g key={i}>
            <line x1={c} x2={c} y1={y(hi)} y2={y(q3)} stroke="#4a4a4a" strokeWidth={1} />
            <line x1={c} x2={c} y1={y(q1)} y2={y(lo)} stroke="#4a4a4a" strokeWidth={1} />
            {bOut[i].map((v, j) => <circle key={j} cx={c} cy={y(v)} r={2.3} fill="#333" />)}
            <path d={d.toString()} fill={cols[i % 2]} stroke="#444" strokeWidth={0.9} />
            <line x1={c - hw + ins} x2={c + hw - ins} y1={y(m)} y2={y(m)} stroke="#333" strokeWidth={1.5} />
          </g>
        );
      })}
      <line x1={276.7} x2={276.7} y1={25.5} y2={358} stroke={AX} strokeWidth={1.1} />
      <line x1={276.7} x2={438} y1={358} y2={358} stroke={AX} strokeWidth={1.1} />
      <line x1={443.3} x2={604.7} y1={358} y2={358} stroke={AX} strokeWidth={1.1} />
      <YTicks x={276.7} scale={y} ticks={bTicks} />
      {labelX.map((x, i) => (
        <g key={i}>
          <line x1={x} x2={x} y1={358} y2={361} stroke={AX} />
          <text x={x} y={373} textAnchor="middle" fontSize={12} fill={TICK}>{aCats[i % 2]}</text>
        </g>
      ))}
      {bP.map((p, i) => <text key={p} x={pX[i]} y={y(bPy[i])} textAnchor="middle" fontSize={14} fill="#000">{p}</text>)}
      <LogTitle x={252} y={192} rot text="FC Expression" />
      {bGroups.map((g, i) => {
        const top = [181, 198.3][i];
        return (
          <g key={g}>
            <line x1={630} x2={630} y1={top - 3} y2={top + 12.7} stroke="#555" />
            <rect x={623.3} y={top} width={13.4} height={9.7} fill={cols[i]} stroke="#444" strokeWidth={0.9} />
            <line x1={623.3} x2={636.7} y1={top + 4.85} y2={top + 4.85} stroke="#333" strokeWidth={1} />
            <text x={644.3} y={top + 9.5} fontSize={13}>{g}</text>
          </g>
        );
      })}
    </g>
  );
}

function PanelC({ x0, x1, strip, zeroX, pts, core, halo, rho, annX, letter }: any) {
  const x = d3.scaleLinear().domain([-2, 2]).range([zeroX - 146.6, zeroX + 146.6]);
  const y = d3.scaleLinear().domain([-2, 2]).range([603.7, 428]);
  const line = d3.line().curve(d3.curveCatmullRomClosed).x((d: any) => x(d[0])).y((d: any) => y(d[1]));
  const yTop = y.invert(418.5), yBot = y.invert(612.7);
  const xL = x.invert(x0), xR = x.invert(x1);
  const id = "clipC" + strip;
  return (
    <g>
      {letter && <text x={2} y={410} fontSize={16} fontWeight="bold">{letter}</text>}
      <Strip x0={x0} x1={x1} y0={397.5} y1={418.5} label={strip} />
      <clipPath id={id}><rect x={x0} y={418.5} width={x1 - x0} height={612.7 - 418.5} /></clipPath>
      <g clipPath={`url(#${id})`}>
        <line x1={x(Math.max(xL, yBot))} y1={y(Math.max(xL, yBot))} x2={x(Math.min(xR, yTop))} y2={y(Math.min(xR, yTop))} stroke="#aaa" strokeWidth={1} strokeDasharray="7 5" />
        <path d={line(halo as any)!} fill="#000" fillOpacity={0.3} filter="url(#softer)" />
        <path d={line(core as any)!} fill="#000" fillOpacity={0.96} filter="url(#soft)" />
        {pairs(pts).map(([a, b], i) => <circle key={i} cx={x(a)} cy={y(b)} r={2.25} fill="#000" fillOpacity={0.38} />)}
      </g>
      <line x1={x0} x2={x0} y1={418.5} y2={612.7} stroke={AX} strokeWidth={1.1} />
      <line x1={x0} x2={x1} y1={612.7} y2={612.7} stroke={AX} strokeWidth={1.1} />
      <YTicks x={x0} scale={y} ticks={bTicks} />
      {bTicks.map((t) => (
        <g key={t}>
          <line x1={x(t)} x2={x(t)} y1={612.7} y2={615.7} stroke={AX} />
          <text x={x(t)} y={627.5} textAnchor="middle" fontSize={13.5} fill={TICK}>{t}</text>
        </g>
      ))}
      <text x={annX} y={440} fontSize={10.5} fill="#000" style={{ whiteSpace: "pre", wordSpacing: "3.2px" }}>
        <tspan fontStyle="italic">ρ</tspan>{` = ${rho} , `}<tspan fontStyle="italic">p</tspan>{" < 2.2e-16"}
      </text>
      <LogTitle x={zeroX} y={642.5} text="FC Expression in GX" />
      <LogTitle x={x0 - 19.5} y={515} rot text="FC Expression in OX" />
    </g>
  );
}

function PanelD({ x0, x1, zeroX, name, up, lo, gxUp, gxLo, gxLine, oxLine, gxDark, gxLight, gxRed, oxGray, oxRed, left }: any) {
  const x = d3.scaleLinear().domain([0, 5]).range([zeroX, zeroX + 250]);
  const yT = d3.scaleLinear().domain([-2, 2]).range([838.7, 695.7]);
  const yB = d3.scaleLinear().domain([-2, 2]).range([999.7, 857.7]);
  const area = (y: any, u: number[], l: number[]) =>
    d3.area<number>().x((d) => x(d)).y0((_, i) => y(l[i])).y1((_, i) => y(u[i])).curve(d3.curveLinear)(dBandX)!;
  const ln = (y: any, v: number[]) =>
    d3.line<number>().x((d) => x(d)).y((_, i) => y(v[i])).curve(d3.curveMonotoneX)(dSmoothX)!;
  const panels = [
    { y: yT, top: 689, bot: 845.7 },
    { y: yB, top: 851, bot: 1007 },
  ];
  return (
    <g>
      <Strip x0={x0} x1={x1} y0={668.3} y1={689} label={name} />
      {panels.map((p, pi) => (
        <g key={pi}>
          {pi === 0 ? (
            <path d={area(p.y, gxUp, gxLo)} fill="#cacaca" filter="url(#band)" />
          ) : (
            <path d={area(p.y, up, lo)} fill="url(#oxBand)" filter="url(#band)" />
          )}
          {pi === 0 && pairs(gxLight).map(([a, b], i) => <circle key={i} cx={x(a)} cy={p.y(b)} r={1.4} fill="#c6c6c6" />)}
          {pi === 0 && pairs(gxDark).map(([a, b], i) => <circle key={i} cx={x(a)} cy={p.y(b)} r={1.4} fill="#686868" />)}
          {pi === 0 && pairs(gxRed).map(([a, b], i) => <path key={i} d={tri} transform={`translate(${x(a)},${p.y(b)})`} fill="#ff2a12" />)}
          {pi === 1 && pairs(oxGray).map(([a, b], i) => <circle key={i} cx={x(a)} cy={p.y(b)} r={1.4} fill="#666" />)}
          {pi === 1 && pairs(oxRed).map(([a, b], i) => <path key={i} d={tri} transform={`translate(${x(a)},${p.y(b)})`} fill="#ff2a12" />)}
          {dPos.map((m, i) => (
            <g key={m}>
              <line x1={x(m)} x2={x(m)} y1={p.top} y2={p.bot} stroke="#999" strokeWidth={1} strokeDasharray="6 4" />
              <text x={x(m)} y={p.y(2) + 5} textAnchor="middle" fontSize={11} fontStyle="italic" fill="#000">{dPosLabels[i]}</text>
            </g>
          ))}
          {pi === 1 && <path d={ln(p.y, oxLine)} fill="none" stroke="#fff" strokeOpacity={0.45} strokeWidth={4} />}
          <path d={ln(p.y, pi ? oxLine : gxLine)} fill="none" stroke="#1e7bf2" strokeWidth={1.6} />
          {left && <line x1={x0} x2={x0} y1={p.top} y2={p.bot} stroke={AX} strokeWidth={1.1} />}
          {left && <YTicks x={x0} scale={p.y} ticks={bTicks} />}
        </g>
      ))}
      <line x1={x0} x2={x1} y1={1007} y2={1007} stroke={AX} strokeWidth={1.1} />
      {d3.range(0, 6).map((t) => (
        <g key={t}>
          <line x1={x(t)} x2={x(t)} y1={1007} y2={1010} stroke={AX} />
          <text x={x(t)} y={1020.5} textAnchor="middle" fontSize={12} fill={TICK}>{t}</text>
        </g>
      ))}
    </g>
  );
}

function LegendD() {
  const y = d3.scaleLinear().domain([0.05, 1]).range([857.3, 778]);
  return (
    <g>
      <rect x={614} y={777.3} width={17} height={84.4} fill="url(#fdrGrad)" />
      {fdrTicks.map((t, i) => (
        <g key={t}>
          <line x1={614} x2={617.4} y1={y(t)} y2={y(t)} stroke="#fff" strokeWidth={0.6} />
          <line x1={627.6} x2={631} y1={y(t)} y2={y(t)} stroke="#fff" strokeWidth={0.6} />
          <text x={637} y={y(t)} dominantBaseline="central" fontSize={13}>{fdrLabels[i]}</text>
        </g>
      ))}
      <circle cx={622.3} cy={899.7} r={1.4} fill="#000" />
      <path d={tri} transform="translate(622.3,917.3)" fill="#000" />
      {shapeLabels.map((s, i) => <text key={s} x={637} y={[899.7, 917.3][i]} dominantBaseline="central" fontSize={13}>{s}</text>)}
    </g>
  );
}

export default function App() {
  return (
    <svg width={718} height={1039} viewBox="0 0 718 1039" fontFamily={FONT} style={{ position: "absolute", left: 0, top: 0, background: "#fff" }}>
      <defs>
        <filter id="soft" x="-20%" y="-20%" width="140%" height="140%"><feGaussianBlur stdDeviation="2" /></filter>
        <filter id="softer" x="-20%" y="-20%" width="140%" height="140%"><feGaussianBlur stdDeviation="3" /></filter>
        <filter id="band" x="-5%" y="-20%" width="110%" height="140%"><feGaussianBlur stdDeviation="1.2" /></filter>
        <linearGradient id="oxBand" x1="0" x2="0" y1="0" y2="1">
          <stop offset="0" stopColor="#7c7c7c" stopOpacity={0.35} />
          <stop offset="0.15" stopColor="#747474" stopOpacity={0.8} />
          <stop offset="0.3" stopColor="#7c7c7c" stopOpacity={0.95} />
          <stop offset="0.42" stopColor="#a6a6a6" />
          <stop offset="0.5" stopColor="#d0d0d0" />
          <stop offset="0.58" stopColor="#a6a6a6" />
          <stop offset="0.7" stopColor="#7c7c7c" stopOpacity={0.95} />
          <stop offset="0.85" stopColor="#747474" stopOpacity={0.8} />
          <stop offset="1" stopColor="#7c7c7c" stopOpacity={0.35} />
        </linearGradient>
        <linearGradient id="fdrGrad" x1="0" x2="0" y1="0" y2="1">
          <stop offset="0" stopColor="#cfcfcf" />
          <stop offset="0.25" stopColor="#a8a8a8" />
          <stop offset="0.5" stopColor="#808080" />
          <stop offset="0.92" stopColor="#555555" />
          <stop offset="0.935" stopColor="#ff1a1a" />
          <stop offset="1" stopColor="#ff0000" />
        </linearGradient>
      </defs>
      <PanelA />
      <PanelB />
      <PanelC x0={31} x1={353.7} strip="EE" zeroX={192.3} pts={cEEPts.concat(cEEPts2)} core={cEECore} halo={cEEHalo} rho="0.28" annX={45} letter="C" />
      <PanelC x0={395} x1={718} strip="TS" zeroX={556.3} pts={cTSPts.concat(cTSPts2)} core={cTSCore} halo={cTSHalo} rho="0.46" annX={409.7} />
      <text x={2} y={675} fontSize={16} fontWeight="bold">D</text>
      <PanelD x0={35} x1={302.7} zeroX={47} name="EE" up={dEEOXUp} lo={dEEOXLo} gxUp={dEEGXUp} gxLo={dEEGXLo} gxLine={dEEGXLine} oxLine={dEEOXLine} gxDark={dEEGXDark} gxLight={dEEGXLight.concat(dEEGXEdge)} gxRed={dEEGXRed} oxGray={dEEOXGray.concat(dEEOXGray2)} oxRed={dEEOXRed.concat(dEEOXRed2)} left />
      <PanelD x0={308} x1={576} zeroX={320.3} name="TS" up={dTSOXUp} lo={dTSOXLo} gxUp={dTSGXUp} gxLo={dTSGXLo} gxLine={dTSGXLine} oxLine={dTSOXLine} gxDark={dTSGXDark} gxLight={dTSGXLight.concat(dTSGXEdge)} gxRed={dTSGXRed} oxGray={dTSOXGray.concat(dTSOXGray2)} oxRed={dTSOXRed.concat(dTSOXRed2)} />
      <Strip x0={576} x1={597} y0={689} y1={845.7} label="GX" rot />
      <Strip x0={576} x1={597} y0={851} y1={1007} label="OX" rot />
      <LegendD />
      <LogTitle x={12} y={848} rot text="FC Expression" />
      <text x={306} y={1036} textAnchor="middle" fontSize={14}>Gene Position (Mbp)</text>
    </svg>
  );
}
